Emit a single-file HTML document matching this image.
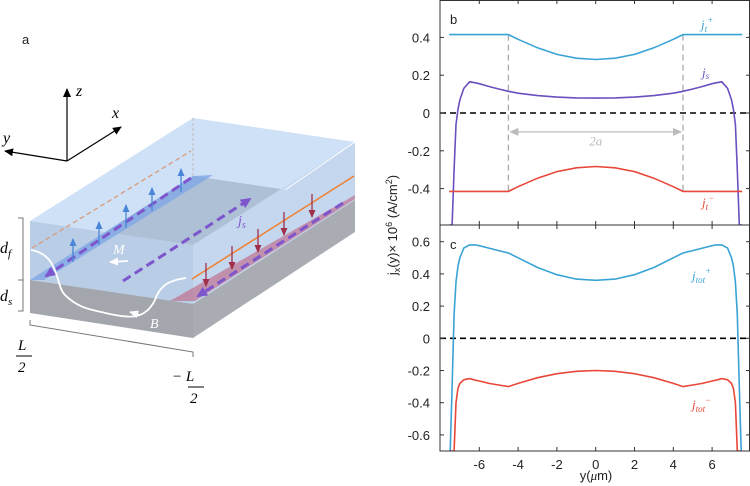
<!DOCTYPE html>
<html><head><meta charset="utf-8"><style>
html,body{margin:0;padding:0;background:#fff;width:750px;height:486px;overflow:hidden;font-family:"Liberation Sans",sans-serif}
svg{display:block}
.t{font-family:"Liberation Sans",sans-serif;font-size:13px;fill:#222}
.m{font-family:"Liberation Serif",serif;font-style:italic}
</style></head><body>
<svg width="750" height="486" viewBox="0 0 750 486">
<defs>
<marker id="ab" markerUnits="userSpaceOnUse" markerWidth="10" markerHeight="10" refX="8" refY="4" orient="auto"><path d="M0,0 L9,4 L0,8z" fill="#000"/></marker>
<marker id="aw" markerUnits="userSpaceOnUse" markerWidth="10" markerHeight="10" refX="8" refY="4" orient="auto"><path d="M0,0 L9,4 L0,8z" fill="#fff"/></marker>
<marker id="abl" markerUnits="userSpaceOnUse" markerWidth="10" markerHeight="10" refX="7" refY="3.5" orient="auto"><path d="M0,0 L8,3.5 L0,7z" fill="#4a86d8"/></marker>
<marker id="ar" markerUnits="userSpaceOnUse" markerWidth="10" markerHeight="10" refX="7" refY="3.5" orient="auto"><path d="M0,0 L8,3.5 L0,7z" fill="#a0304a"/></marker>
<marker id="ap" markerUnits="userSpaceOnUse" markerWidth="14" markerHeight="14" refX="9" refY="5" orient="auto"><path d="M0,0 L11,5 L0,10z" fill="#7d55cc"/></marker>
<marker id="ag" markerUnits="userSpaceOnUse" markerWidth="10" markerHeight="10" refX="8" refY="4" orient="auto"><path d="M0,0 L9,4 L0,8z" fill="#bbb"/></marker>
<clipPath id="cb"><rect x="440" y="0" width="310" height="225"/></clipPath>
<clipPath id="cc"><rect x="440" y="225" width="310" height="226"/></clipPath>
</defs>

<g>
<text x="22" y="44" class="t" font-size="14">a</text>
<g stroke="#000" stroke-width="1.2">
<line x1="67" y1="161" x2="67" y2="89" marker-end="url(#ab)"/>
<line x1="67" y1="161" x2="121" y2="127" marker-end="url(#ab)"/>
<line x1="67" y1="161" x2="5" y2="151" marker-end="url(#ab)"/>
</g>
<text x="76" y="96" class="m" font-size="16">z</text>
<text x="112" y="118" class="m" font-size="16">x</text>
<text x="3" y="143" class="m" font-size="16">y</text>
<g>
<polygon points="30,221 193,118 355,142 193,245" fill="#cfe1f7"/>
<polygon points="30,280 193,176 355,200 193,304" fill="#9fb2c8" opacity="0.7"/>
<polygon points="30,221 193,245 193,304 30,280" fill="#b9cde6"/>
<polygon points="30,280 193,304 193,338 30,313" fill="#a3a7ad"/>
<polygon points="193,245 355,142 355,200 193,304" fill="#c4d7ef"/>
<polygon points="193,304 355,200 355,232 193,338" fill="#a9adb3"/>
<polygon points="30,280 44,280 213,175 193,176" fill="#7fa6e6" opacity="0.8"/>
<polygon points="170,301 195,301 355,199 355,195" fill="#c06080" opacity="0.6"/>
<line x1="285" y1="190" x2="355" y2="142" stroke="#fff" stroke-width="1"/>
<line x1="193" y1="118" x2="193" y2="176" stroke="#bbb" stroke-dasharray="3,2"/>
<line x1="32" y1="248" x2="191" y2="151" stroke="#d79a7a" stroke-width="1.3" stroke-dasharray="5,3"/>
<line x1="192" y1="279" x2="354" y2="176" stroke="#f08030" stroke-width="1.5"/>
<line x1="191" y1="178" x2="46" y2="276" stroke="#7d55cc" stroke-width="3" stroke-dasharray="9,5" marker-end="url(#ap)"/>
<line x1="123" y1="281" x2="250" y2="199" stroke="#7d55cc" stroke-width="3" stroke-dasharray="9,5" marker-end="url(#ap)"/>
<line x1="343" y1="203" x2="198" y2="296" stroke="#7d55cc" stroke-width="3" stroke-dasharray="9,5" marker-end="url(#ap)"/>
<g stroke="#4a86d8" stroke-width="1.3" marker-end="url(#abl)">
<line x1="73" y1="262" x2="73" y2="239"/><line x1="99" y1="245" x2="99" y2="222"/><line x1="126" y1="228" x2="126" y2="205"/><line x1="152" y1="211" x2="152" y2="188"/><line x1="181" y1="192" x2="181" y2="169"/>
</g>
<g stroke="#a0304a" stroke-width="1.3" marker-end="url(#ar)">
<line x1="206" y1="263" x2="206" y2="286"/><line x1="232" y1="246" x2="232" y2="269"/><line x1="258" y1="229" x2="258" y2="252"/><line x1="284" y1="212" x2="284" y2="235"/><line x1="312" y1="194" x2="312" y2="217"/>
</g>
<path d="M31,250 C60,255 55,285 65,295 C80,310 95,310 110,314 C130,318 145,320 155,300 C160,285 170,280 186,278" fill="none" stroke="#fff" stroke-width="1.8"/>
<line x1="140" y1="315" x2="130" y2="312" stroke="#fff" stroke-width="1.5" marker-end="url(#aw)"/>
<line x1="128" y1="261" x2="110" y2="262" stroke="#fff" stroke-width="1.8" marker-end="url(#aw)"/>
<text x="113" y="254" class="m" font-size="14" fill="#fff">M</text>
<text x="150" y="328" class="m" font-size="14" fill="#fff">B</text>
<text x="238" y="225" class="m" font-size="14" fill="#7d55cc">j<tspan font-size="10" dy="3">s</tspan></text>
<g stroke="#777" fill="none"><path d="M18,218 H23 V311 H18"/><line x1="23" y1="280" x2="18" y2="280"/><path d="M30,320 V325 L193,352 V357"/></g>
<text x="0" y="253" class="m" font-size="16">d<tspan font-size="11" dy="4">f</tspan></text>
<text x="0" y="301" class="m" font-size="16">d<tspan font-size="11" dy="4">s</tspan></text>
<text x="18" y="350" class="m" font-size="15">L</text>
<line x1="16" y1="356" x2="32" y2="356" stroke="#000"/>
<text x="18" y="372" class="m" font-size="15">2</text>
<text x="172" y="381" class="m" font-size="15">− L</text>
<line x1="188" y1="387" x2="204" y2="387" stroke="#000"/>
<text x="190" y="403" class="m" font-size="15">2</text>
</g>
</g>

<g id="chart"></g>

<g>
<text x="450" y="24" class="t">b</text>
<text x="450" y="249" class="t">c</text>
<text x="701" y="29" class="m" font-size="13" fill="#3aa3d6">j<tspan font-size="9" dy="3">t</tspan><tspan font-size="9" dy="-9">+</tspan></text>
<text x="702" y="77" class="m" font-size="13" fill="#6a4fbf">j<tspan font-size="9" dy="2">s</tspan></text>
<text x="702" y="207" class="m" font-size="13" fill="#e8473a">j<tspan font-size="9" dy="3">t</tspan><tspan font-size="9" dy="-9">−</tspan></text>
<text x="692" y="280" class="m" font-size="13" fill="#3aa3d6">j<tspan font-size="9" dy="3">tot</tspan><tspan font-size="9" dy="-9">+</tspan></text>
<text x="692" y="409" class="m" font-size="13" fill="#e8473a">j<tspan font-size="9" dy="3">tot</tspan><tspan font-size="9" dy="-9">−</tspan></text>
<text x="596" y="480" class="t" text-anchor="middle">y(<tspan class="m">μ</tspan>m)</text>
<text transform="translate(397,225) rotate(-90)" class="t" text-anchor="middle">j<tspan font-size="9" dy="3">x</tspan><tspan dy="-3">(y)× 10</tspan><tspan font-size="9" dy="-5">6</tspan><tspan dy="5"> (A/cm</tspan><tspan font-size="9" dy="-5">2</tspan><tspan dy="5">)</tspan></text>
</g>
</svg>
<script>
var ys   = [-7.55,-7.5,-7.4,-7.3,-7.2,-7.1,-7.0,-6.8,-6.5,-6.2,-6.0,-5.5,-5.0,-4.5,-4,-3,-2,-1,0,1,2,3,4,4.5,5,5.5,6,6.2,6.5,6.8,7.0,7.1,7.2,7.3,7.4,7.5,7.55];
var jtPlus  = [0.415,0.415,0.415,0.415,0.415,0.415,0.415,0.415,0.415,0.415,0.415,0.415,0.415,0.415,0.39,0.345,0.31,0.29,0.283,0.29,0.31,0.345,0.39,0.415,0.415,0.415,0.415,0.415,0.415,0.415,0.415,0.415,0.415,0.415,0.415,0.415,0.415];
var jtMinus = [-0.415,-0.415,-0.415,-0.415,-0.415,-0.415,-0.415,-0.415,-0.415,-0.415,-0.415,-0.415,-0.415,-0.415,-0.39,-0.345,-0.31,-0.29,-0.283,-0.29,-0.31,-0.345,-0.39,-0.415,-0.415,-0.415,-0.415,-0.415,-0.415,-0.415,-0.415,-0.415,-0.415,-0.415,-0.415,-0.415,-0.415];
var js      = [-1.0,-0.9,-0.7,-0.3,-0.06,0.02,0.07,0.13,0.165,0.16,0.155,0.14,0.127,0.115,0.105,0.092,0.084,0.08,0.079,0.08,0.084,0.092,0.105,0.115,0.127,0.14,0.155,0.16,0.165,0.13,0.07,0.02,-0.06,-0.3,-0.7,-0.9,-1.0];
var jtotPlus  = [-1.2,-0.95,-0.3,0.15,0.35,0.45,0.5,0.56,0.58,0.58,0.575,0.56,0.545,0.53,0.5,0.44,0.395,0.368,0.36,0.368,0.395,0.44,0.5,0.53,0.545,0.56,0.575,0.58,0.58,0.56,0.5,0.45,0.35,0.15,-0.3,-0.95,-1.2];
var jtotMinus = [-1.3,-1.2,-1.0,-0.7,-0.4,-0.31,-0.28,-0.258,-0.25,-0.26,-0.265,-0.28,-0.29,-0.30,-0.28,-0.245,-0.22,-0.205,-0.2,-0.205,-0.22,-0.245,-0.28,-0.30,-0.29,-0.28,-0.265,-0.26,-0.25,-0.258,-0.28,-0.31,-0.4,-0.7,-1.0,-1.2,-1.3];
var xTicks = [-6,-4,-2,0,2,4,6];
var yTicksB = [-0.4,-0.2,0,0.2,0.4];
var yTicksC = [-0.6,-0.4,-0.2,0,0.2,0.4,0.6];
var tickLabelsB = ["-0.4","-0.2","0","0.2","0.4"];
var tickLabelsC = ["-0.6","-0.4","-0.2","0","0.2","0.4","0.6"];
var boundaries = [-4.5,4.5];

var NS="http://www.w3.org/2000/svg", g=document.getElementById('chart');
var L=440,R=750,TB=0,BB=225,TC=225,BC=451;
function clamp(v,a,b){return Math.max(a,Math.min(b,v));}
function X(v){return 595.7+(v*19.4);}
function YB(v){return clamp(113-v*189,TB,BB);}
function YC(v){return clamp(338.3-v*161,TC,BC);}
function mk(t,a,p){var e=document.createElementNS(NS,t);for(var k in a)e.setAttribute(k,a[k]);(p||g).appendChild(e);return e;}
function path(vals,fy,col,clip,name){
  var d=ys.map(function(y,i){return (i?'L':'M')+X(y).toFixed(1)+','+fy(vals[i]).toFixed(1);}).join('');
  var e=mk('path',{d:d,fill:'none',stroke:col,'stroke-width':1.6,'clip-path':'url(#'+clip+')'});
  
  
}
var z1=mk('line',{x1:L,x2:R,y1:YB(0),y2:YB(0),stroke:'#000','stroke-width':1.6,'stroke-dasharray':'6,4'});


var z2=mk('line',{x1:L,x2:R,y1:YC(0),y2:YC(0),stroke:'#000','stroke-width':1.6,'stroke-dasharray':'6,4'});


boundaries.forEach(function(b){
  var e=mk('line',{x1:X(b),x2:X(b),y1:YB(0.415),y2:YB(-0.415),stroke:'#aaa','stroke-width':1.3,'stroke-dasharray':'6,4'});
  
  
});
var ar=mk('line',{x1:X(0),x2:X(4.4),y1:YB(-0.1),y2:YB(-0.1),stroke:'#bbb','stroke-width':1.3,'marker-end':'url(#ag)'});


var ar2=mk('line',{x1:X(0),x2:X(-4.4),y1:YB(-0.1),y2:YB(-0.1),stroke:'#bbb','stroke-width':1.3,'marker-end':'url(#ag)'});


var tw=mk('text',{x:X(0),y:YB(-0.15)+4,'text-anchor':'middle','class':'m','font-size':13,fill:'#bbb'});tw.textContent='2a';


path(jtPlus,YB,'#3aa3d6','cb','series-jt-plus');
path(js,YB,'#6a4fbf','cb','series-js');
path(jtMinus,YB,'#e8473a','cb','series-jt-minus');
path(jtotPlus,YC,'#3aa3d6','cc','series-jtot-plus');
path(jtotMinus,YC,'#e8473a','cc','series-jtot-minus');
var f1=mk('rect',{x:L,y:TB+0.5,width:R-L-0.5,height:BB-TB-0.5,fill:'none',stroke:'#333','stroke-width':1});


var f2=mk('rect',{x:L,y:TC,width:R-L-0.5,height:BC-TC,fill:'none',stroke:'#333','stroke-width':1});


xTicks.forEach(function(v){
  [[TB,1],[BB,-1],[TC,1],[BC,-1]].forEach(function(p){
    var e=mk('line',{x1:X(v),x2:X(v),y1:p[0],y2:p[0]+p[1]*4,stroke:'#333'});
    
    
  });
  var t=mk('text',{x:X(v),y:BC+18,'text-anchor':'middle','class':'t'});t.textContent=String(v);
  
  
});
yTicksB.forEach(function(v,i){
  var e=mk('line',{x1:L,x2:L+4,y1:YB(v),y2:YB(v),stroke:'#333'});
  
  
  var e2=mk('line',{x1:R-4,x2:R,y1:YB(v),y2:YB(v),stroke:'#333'});
  
  
  var t=mk('text',{x:L-10,y:YB(v)+5,'text-anchor':'end','class':'t'});t.textContent=tickLabelsB[i];
  
  
});
yTicksC.forEach(function(v,i){
  var e=mk('line',{x1:L,x2:L+4,y1:YC(v),y2:YC(v),stroke:'#333'});
  
  
  var e2=mk('line',{x1:R-4,x2:R,y1:YC(v),y2:YC(v),stroke:'#333'});
  
  
  var t=mk('text',{x:L-10,y:YC(v)+5,'text-anchor':'end','class':'t'});t.textContent=tickLabelsC[i];
  
  
});
</script>
</body></html>
